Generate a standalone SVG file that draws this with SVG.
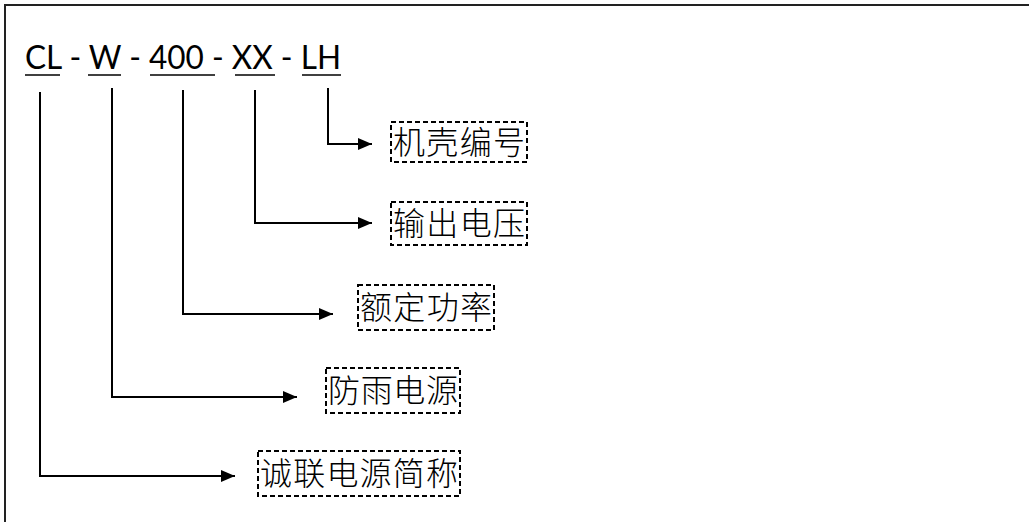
<svg xmlns="http://www.w3.org/2000/svg" width="1029" height="522" viewBox="0 0 1029 522">
<defs>
<marker id="ah" markerWidth="14" markerHeight="12" refX="14" refY="6" orient="auto" markerUnits="userSpaceOnUse"><path d="M0,0 L14,6 L0,12 Z" fill="#000"/></marker>
<style>
.frame{fill:none;stroke:#222;stroke-width:2}
.title{font-family:Lato,"Liberation Sans",sans-serif;font-size:32px;font-weight:400;fill:#000}
.ul{stroke:#000;stroke-width:1.5}
.conn{fill:none;stroke:#000;stroke-width:2}
.lbl{font-family:"Noto Sans CJK SC","Noto Sans",sans-serif;font-size:32px;font-weight:300;fill:#000}
.box{fill:none;stroke:#000;stroke-width:2;stroke-dasharray:5,3}
</style>
</defs>
<rect width="1029" height="522" fill="#fff"/>
<path class="frame" d="M5,530 V5 H1040"/>
<g id="title">
<text class="title" x="25" y="69" textLength="316" lengthAdjust="spacingAndGlyphs">CL - W - 400 - XX - LH</text>
<line class="ul" x1="25" y1="75" x2="60" y2="75"/>
<line class="ul" x1="88" y1="75" x2="121" y2="75"/>
<line class="ul" x1="150" y1="75" x2="215" y2="75"/>
<line class="ul" x1="235" y1="75" x2="275" y2="75"/>
<line class="ul" x1="302" y1="75" x2="341" y2="75"/>
</g>
<g id="connectors">
<path class="conn" d="M328,88 V144 H372" marker-end="url(#ah)"/>
<path class="conn" d="M255,90 V223 H372" marker-end="url(#ah)"/>
<path class="conn" d="M183,90 V314 H333" marker-end="url(#ah)"/>
<path class="conn" d="M112,88 V397 H297" marker-end="url(#ah)"/>
<path class="conn" d="M40,92 V476 H235" marker-end="url(#ah)"/>
</g>
<g id="n1"><rect class="box" x="391" y="122" width="136" height="40"/><text class="lbl" x="459" y="154" text-anchor="middle" textLength="132">机壳编号</text></g>
<g id="n2"><rect class="box" x="391" y="202" width="136" height="43"/><text class="lbl" x="459" y="235" text-anchor="middle" textLength="132">输出电压</text></g>
<g id="n3"><rect class="box" x="358" y="285" width="136" height="45"/><text class="lbl" x="426" y="319" text-anchor="middle" textLength="132">额定功率</text></g>
<g id="n4"><rect class="box" x="326" y="368" width="134" height="45"/><text class="lbl" x="393" y="402" text-anchor="middle" textLength="130">防雨电源</text></g>
<g id="n5"><rect class="box" x="258" y="451" width="202" height="45"/><text class="lbl" x="359" y="485" text-anchor="middle" textLength="198">诚联电源简称</text></g>
</svg>
